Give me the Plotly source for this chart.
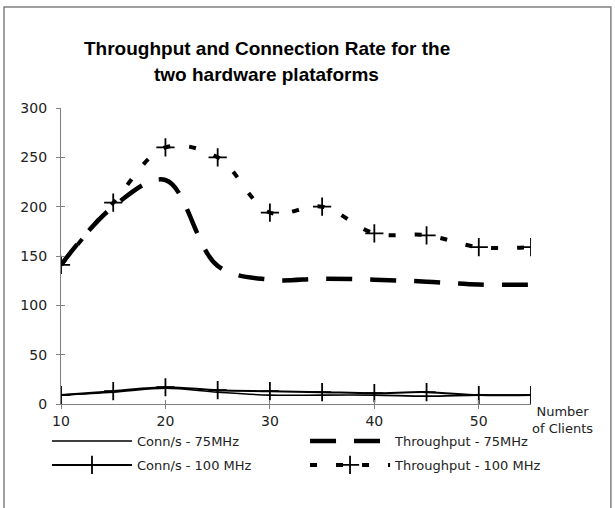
import plotly.graph_objects as go

# Number of clients (category positions on the x axis)
clients = [10, 15, 20, 25, 30, 35, 40, 45, 50, 55]

# Connection rate (conn/s) and throughput for the two platforms
conn_75 = [9, 12, 16, 12, 9, 9, 9, 8, 9, 9]
conn_100 = [9, 13, 17, 14, 13, 12, 11, 12, 9, 9]
thr_75 = [141, 200, 227, 140, 126, 127, 126, 124, 121, 121]
thr_100 = [141, 204, 260, 250, 194, 200, 173, 171, 159, 159]

x_ticks = [10, 20, 30, 40, 50]
y_ticks = [0, 50, 100, 150, 200, 250, 300]

FONT = "DejaVu Sans"
AXIS_GREY = "#808080"
TEXT = "#222222"

fig = go.Figure()

fig.add_trace(go.Scatter(
    x=clients, y=conn_75, name="Conn/s - 75MHz", mode="lines",
    line=dict(color="black", width=1.6, shape="spline", smoothing=1),
    xaxis="x2", yaxis="y2", legend="legend",
))
fig.add_trace(go.Scatter(
    x=clients, y=thr_75, name="Throughput - 75MHz", mode="lines",
    line=dict(color="black", width=4.5, dash="26px,18px", shape="spline", smoothing=1),
    legend="legend2",
))
fig.add_trace(go.Scatter(
    x=clients, y=conn_100, name="Conn/s - 100 MHz", mode="lines+markers",
    line=dict(color="black", width=2, shape="spline", smoothing=1),
    marker=dict(symbol="cross-thin-open", size=13, color="black",
                line=dict(color="black", width=1.8)),
    legend="legend3",
))
fig.add_trace(go.Scatter(
    x=clients, y=thr_100, name="Throughput - 100 MHz", mode="lines+markers",
    line=dict(color="black", width=4, dash="7px,19px", shape="spline", smoothing=1),
    marker=dict(symbol="cross-thin-open", size=13, color="black",
                line=dict(color="black", width=1.8)),
    legend="legend4",
))

axis_common = dict(
    showgrid=False, zeroline=False,
    tickfont=dict(family=FONT, size=14, color=TEXT),
)

# one legend box per entry, laid out as a 2x2 grid under the axes
legend_common = dict(
    orientation="v", xref="container", yref="container",
    xanchor="left", yanchor="top", itemwidth=80,
    font=dict(family=FONT, size=13, color=TEXT),
    bgcolor="rgba(0,0,0,0)",
)
col_x = [0.0764, 0.496]
row_y = [0.1614, 0.1142]

fig.update_layout(
    width=615, height=508,
    margin=dict(l=61, r=84, t=108, b=104, autoexpand=False),
    paper_bgcolor="white", plot_bgcolor="white",
    showlegend=True,
    xaxis=dict(
        range=[10, 55], tickvals=x_ticks, ticktext=[str(v) for v in x_ticks],
        showline=True, linecolor=AXIS_GREY, linewidth=1.2,
        ticks="outside", ticklen=4, tickcolor=AXIS_GREY, tickwidth=1.2,
        **axis_common,
    ),
    yaxis=dict(
        range=[0, 300], tickvals=y_ticks,
        showline=True, linecolor=AXIS_GREY, linewidth=1.2,
        ticks="outside", ticklen=4, tickcolor=AXIS_GREY, tickwidth=1.2,
        ticklabelstandoff=6,
        **axis_common,
    ),
    # overlay axes carry the inner half of the crossing tick marks
    xaxis2=dict(
        overlaying="x", anchor="y2", range=[10, 55], tickvals=x_ticks,
        showticklabels=False, showline=False, showgrid=False, zeroline=False,
        ticks="inside", ticklen=4, tickcolor=AXIS_GREY, tickwidth=1.2,
    ),
    yaxis2=dict(
        overlaying="y", anchor="x2", side="left", range=[0, 300], tickvals=y_ticks,
        showticklabels=False, showline=False, showgrid=False, zeroline=False,
        ticks="inside", ticklen=4, tickcolor=AXIS_GREY, tickwidth=1.2,
    ),
    legend=dict(x=col_x[0], y=row_y[0], **legend_common),
    legend2=dict(x=col_x[1], y=row_y[0], **legend_common),
    legend3=dict(x=col_x[0], y=row_y[1], **legend_common),
    legend4=dict(x=col_x[1], y=row_y[1], **legend_common),
    annotations=[
        dict(text="<b>Throughput and Connection Rate for the</b>", x=0.438, y=1.2027,
             xref="paper", yref="paper", showarrow=False, xanchor="center", yanchor="middle",
             font=dict(family="Liberation Sans", size=19, color="black")),
        dict(text="<b>two hardware plataforms</b>", x=0.438, y=1.1115,
             xref="paper", yref="paper", showarrow=False, xanchor="center", yanchor="middle",
             font=dict(family="Liberation Sans", size=19, color="black")),
        dict(text="Number<br>of Clients", x=1.068, y=0.006, xref="paper", yref="paper",
             showarrow=False, xanchor="center", yanchor="top", align="center",
             font=dict(family=FONT, size=13, color=TEXT)),
    ],
    shapes=[
        dict(type="rect", xref="paper", yref="paper",
             x0=-0.1213, x1=1.170, y0=-0.36, y1=1.341,
             line=dict(color=AXIS_GREY, width=1.5), fillcolor="rgba(0,0,0,0)", layer="below"),
    ],
)

fig.write_html("out.html")
